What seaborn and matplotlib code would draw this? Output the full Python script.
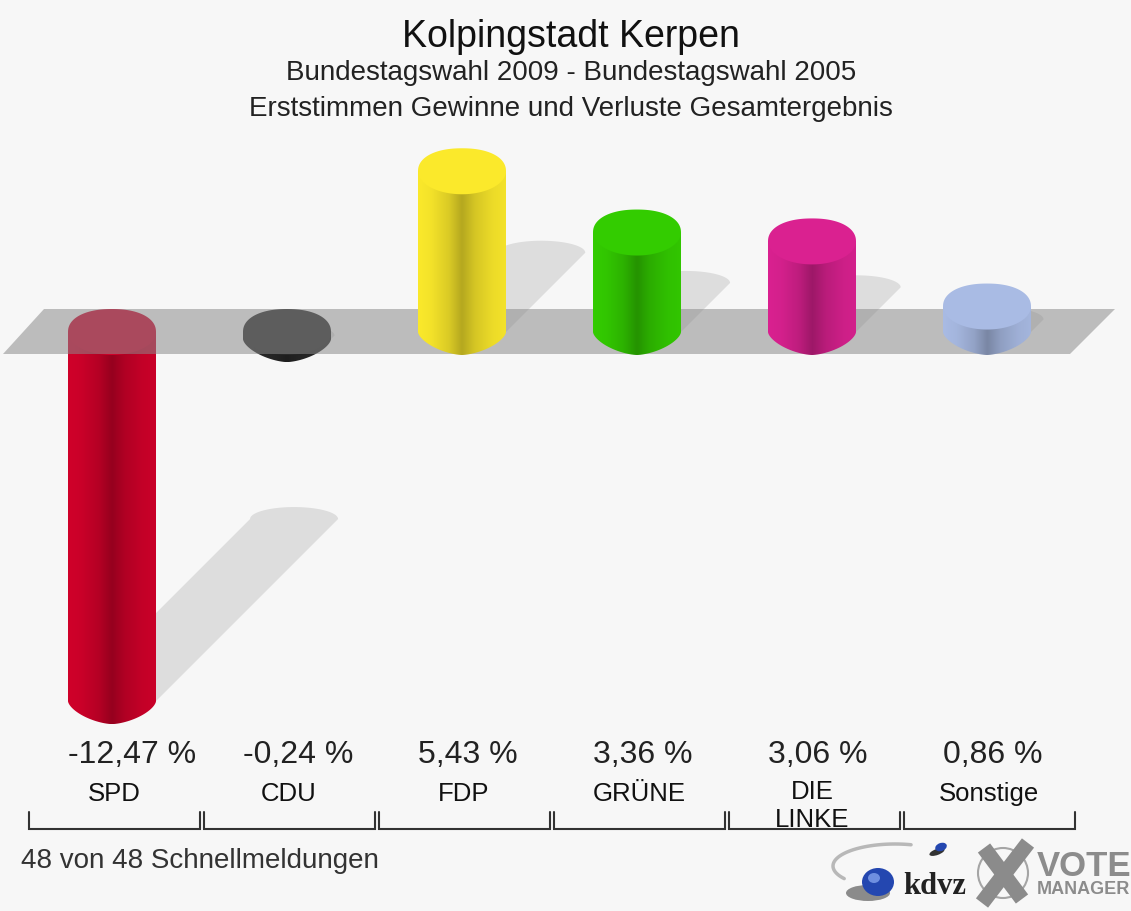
import numpy as np
import pandas as pd
import matplotlib
matplotlib.use('Agg')
import matplotlib.pyplot as plt
import seaborn as sns
from matplotlib.colors import to_rgb
from matplotlib.patches import Ellipse, Polygon, PathPatch, Circle
from matplotlib.path import Path
from matplotlib.transforms import Affine2D, blended_transform_factory

# values
parties = ['SPD', 'CDU', 'FDP', 'GRÜNE', 'DIE\nLINKE', 'Sonstige']
changes = [-12.47, -0.24, 5.43, 3.36, 3.06, 0.86]
value_labels = ['-12,47 %', '-0,24 %', '5,43 %', '3,36 %', '3,06 %', '0,86 %']
colors = ['#d0002a', '#2a2a2a', '#fbe92b', '#33cc00', '#da2190', '#a9bbe4']

# layout in pixels of the 1131x911 picture
W, H = 1131, 911
ZERO_Y = 332
PX_PER_PCT = 29.6
STEP = 175
FIRST_X = 112
BAR_W = 88
CAP_H = 46
SHADOW_PX = 14.6
BG = '#f7f7f7'

sns.set_theme(style='white')
plt.rcParams['font.family'] = ['Liberation Sans', 'DejaVu Sans']

df = pd.DataFrame({'party': parties, 'change': changes})

fig = plt.figure(figsize=(W / 100, H / 100), dpi=100, facecolor=BG)
ax = fig.add_axes([0, 0, 1, 1])
sns.barplot(data=df, x='party', y='change', hue='party', palette=colors,
            width=BAR_W / STEP, legend=False, saturation=1, ax=ax)
bars = list(ax.patches)

xlim = (-FIRST_X / STEP, (W - FIRST_X) / STEP)
ylim = ((ZERO_Y - H) / PX_PER_PCT, ZERO_Y / PX_PER_PCT)
ax.axis('off')

# pixel coordinates for the decoration, y pointing down
px = Affine2D().scale(1 / W, -1 / H).translate(0, 1) + fig.transFigure
x_px = blended_transform_factory(ax.transData, px)

cap_h = CAP_H / PX_PER_PCT
theta = np.linspace(0, np.pi, 60)
shade = np.interp(np.linspace(0, 1, 176), [0, .15, .35, .5, .65, .85, 1],
                  [1.0, .97, .87, .72, .85, .94, .97])


def round_end(cx, cy, w, h, power):
    """half of a superellipse, right to left; h < 0 gives the lower half"""
    c, s = np.cos(theta), np.sin(theta)
    xs = np.sign(c) * np.abs(c) ** (2 / power)
    return np.column_stack([cx + w / 2 * xs, cy + h * s ** (2 / power)])


for i, (bar, v, col) in enumerate(zip(bars, changes, colors)):
    z = 2 if v < 0 else 4
    bar.set_zorder(z)
    bar.set_edgecolor('none')
    x0, w = bar.get_x(), bar.get_width()
    cx = x0 + w / 2
    high, low = max(v, 0), min(v, 0)

    # shadow falls up and to the right from the foot of the bar
    shift = abs(v) * SHADOW_PX
    sx = shift / STEP
    sy = low + shift / PX_PER_PCT
    arc = np.column_stack([cx + sx + w / 2 * np.cos(theta),
                           sy + 12 / PX_PER_PCT * np.sin(theta)])
    pts = np.vstack([[[x0, low], [x0 + w, low]], arc])
    ax.add_patch(Polygon(pts, closed=True, fc='#dddddd', ec='none', zorder=1))

    # cylinder body, pointed a little at the foot
    foot = round_end(cx, low, w, -cap_h / 2, 1.6)
    body = np.vstack([[[x0 + w, high]], foot, [[x0, high]], [[x0 + w, high]]])
    grad = np.outer(shade, to_rgb(col))[None, :, :]
    im = ax.imshow(grad, extent=(x0, x0 + w, low - cap_h / 2, high), aspect='auto',
                   zorder=z + .1, interpolation='bilinear')
    im.set_clip_path(PathPatch(Path(body), transform=ax.transData))
    cap = np.vstack([round_end(cx, high, w, cap_h / 2, 2.2),
                     round_end(cx, high, w, -cap_h / 2, 2.0)[::-1]])
    ax.add_patch(Polygon(cap, closed=True, fc=col, ec='none', zorder=z + .2))

    # labels below the chart, values start at the left edge of the bar
    ax.text(x0, 755, value_labels[i], transform=x_px, ha='left', va='center',
            fontsize=23, color='#222222', zorder=6)
    if '\n' in parties[i]:
        first, second = parties[i].split('\n')
        ax.text(i, 792, first, transform=x_px, ha='center', va='center',
                fontsize=18.5, color='#111111', zorder=6)
        ax.text(i, 820, second, transform=x_px, ha='center', va='center',
                fontsize=18.5, color='#111111', zorder=6)
    else:
        ax.text(i + 2 / STEP, 794, parties[i], transform=x_px, ha='center', va='center',
                fontsize=18.5, color='#111111', zorder=6)

    # bracket under each party
    left = FIRST_X + i * STEP - 83
    ax.plot([left, left, left + 171, left + 171], [812, 829, 829, 812], transform=px,
            color='#333333', lw=1.5, solid_joinstyle='miter', zorder=5)

# grey floor, over the falling bars and under the rising ones
ax.add_patch(Polygon([(3, 354), (44, 309), (1115, 309), (1070, 354)], closed=True,
                     transform=px, fc='#8a8a8a', ec='none', alpha=0.537, zorder=3))

ax.set_xlim(xlim)
ax.set_ylim(ylim)

ax.text(571, 37, 'Kolpingstadt Kerpen', transform=px, ha='center', va='center',
        fontsize=27, color='#111111')
ax.text(571, 73, 'Bundestagswahl 2009 - Bundestagswahl 2005', transform=px,
        ha='center', va='center', fontsize=20, color='#222222')
ax.text(571, 109, 'Erststimmen Gewinne und Verluste Gesamtergebnis', transform=px,
        ha='center', va='center', fontsize=20, color='#222222')
ax.text(21, 861, '48 von 48 Schnellmeldungen', transform=px, ha='left', va='center',
        fontsize=20, color='#333333')

# kdvz logo
t = np.linspace(np.radians(75), np.radians(215), 50)
ax.plot(895 + 62 * np.cos(t), 866 - 22 * np.sin(t), transform=px, color='#b8b8b8', lw=2.5,
        solid_capstyle='round', zorder=5)
ax.add_patch(Ellipse((868, 893), 44, 16, transform=px, fc='#444444', ec='none', alpha=.6, zorder=5))
ax.add_patch(Ellipse((878, 882), 32, 28, transform=px, fc='#2447b0', ec='none', zorder=5))
ax.add_patch(Ellipse((874, 878), 12, 10, transform=px, fc='#6f8fe0', ec='none', zorder=5))
ax.add_patch(Ellipse((937, 852), 16, 6, angle=-20, transform=px, fc='#333333', ec='none', zorder=5))
ax.add_patch(Ellipse((941, 847), 12, 8, angle=-20, transform=px, fc='#2447b0', ec='none', zorder=5))
ax.text(935, 886, 'kdvz', transform=px, ha='center', va='center', fontsize=22,
        family=['Liberation Serif'], weight='bold', color='#222222', zorder=5)

# vote manager logo
ax.add_patch(Circle((1003, 873), 25, transform=px, fc='none', ec='#a5a5a5', lw=1.5, zorder=5))
ax.plot([984, 1022], [848, 899], transform=px, color='#8b8b8b', lw=11, solid_capstyle='butt', zorder=5)
ax.plot([1028, 982], [843, 903], transform=px, color='#8b8b8b', lw=11, solid_capstyle='butt', zorder=5)
ax.text(1037, 866, 'VOTE', transform=px, ha='left', va='center', fontsize=25, weight='bold',
        color='#8c8c8c', zorder=5)
ax.text(1037, 890, 'MANAGER', transform=px, ha='left', va='center', fontsize=13, weight='bold',
        color='#8c8c8c', zorder=5)

fig.savefig('out.png', dpi=100, facecolor=BG)
